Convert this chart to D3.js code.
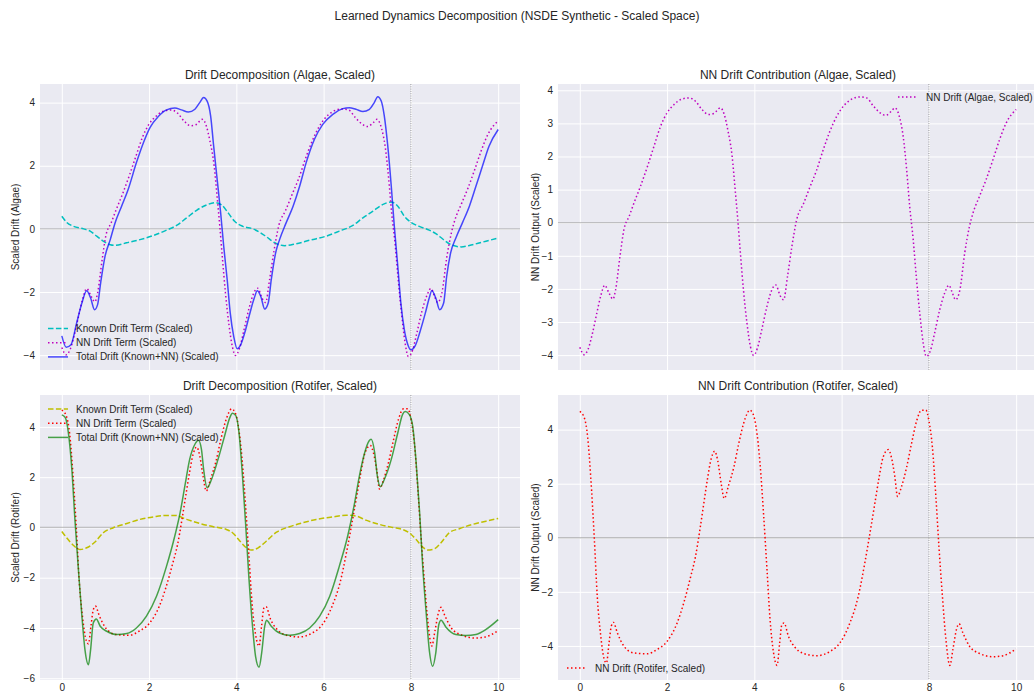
<!DOCTYPE html>
<html><head><meta charset="utf-8">
<script src="https://cdn.jsdelivr.net/npm/d3@7"></script>
<style>
body{margin:0;background:#fff}
text{font-family:"Liberation Sans",Arial,sans-serif;fill:#262626}
</style>
</head><body>
<svg id="chart" width="1034" height="693"></svg>
<script>
// ---------------- DATA ----------------
const xTicks = [0, 2, 4, 6, 8, 10];
const markerTime = 8;

const algaeKnownT = [0,0.11,0.27,0.50,0.65,0.80,0.95,1.11,1.22,1.49,1.79,2.10,2.40,2.63,2.86,3.09,3.32,3.51,3.66,3.81,3.96,4.15,4.38,4.54,4.69,4.88,5.11,5.37,5.68,6.06,6.36,6.67,6.90,7.13,7.35,7.55,7.70,7.85,8.0,8.19,8.42,8.57,8.73,8.92,9.15,9.41,9.72,10];
const algaeKnown  = [0.40,0.21,0.08,0.0,-0.07,-0.23,-0.39,-0.50,-0.52,-0.44,-0.34,-0.21,-0.04,0.11,0.35,0.59,0.76,0.83,0.76,0.51,0.24,0.08,0.0,-0.11,-0.25,-0.44,-0.53,-0.47,-0.36,-0.23,-0.07,0.11,0.35,0.56,0.77,0.85,0.72,0.40,0.21,0.08,-0.04,-0.15,-0.32,-0.50,-0.57,-0.50,-0.39,-0.29];

const algaeNNT = [0,0.1,0.19,0.29,0.39,0.48,0.57,0.67,0.76,0.82,0.92,1.01,1.13,1.24,1.39,1.55,1.70,1.85,2.00,2.16,2.31,2.50,2.65,2.80,2.95,3.07,3.22,3.31,3.39,3.49,3.56,3.62,3.68,3.75,3.83,3.91,3.98,4.07,4.17,4.29,4.40,4.49,4.59,4.67,4.76,4.86,4.97,5.13,5.28,5.43,5.58,5.73,5.89,6.04,6.19,6.42,6.57,6.73,6.88,7.01,7.14,7.22,7.33,7.41,7.49,7.56,7.64,7.71,7.79,7.87,7.94,8.04,8.13,8.25,8.36,8.46,8.54,8.61,8.71,8.82,8.93,9.01,9.16,9.31,9.47,9.62,9.77,10.0];
const algaeNN  = [-3.76,-3.99,-3.82,-3.34,-2.73,-2.21,-1.89,-2.13,-2.31,-2.03,-1.02,-0.21,0.19,0.59,1.10,1.70,2.31,2.91,3.32,3.57,3.72,3.77,3.67,3.42,3.27,3.30,3.47,3.27,2.81,2.01,1.0,0.09,-0.92,-2.03,-3.03,-3.74,-4.01,-3.79,-3.23,-2.52,-2.03,-1.88,-2.2,-2.33,-1.62,-0.72,0.09,0.59,1.10,1.60,2.21,2.76,3.22,3.52,3.70,3.80,3.77,3.52,3.32,3.24,3.37,3.47,3.17,2.61,1.60,0.49,-0.51,-1.62,-2.73,-3.64,-4.04,-3.84,-3.34,-2.62,-2.13,-1.89,-2.13,-2.33,-2.03,-0.92,-0.11,0.29,0.80,1.30,1.91,2.51,3.01,3.42];

const algaeTotalT = [0,0.10,0.21,0.34,0.46,0.57,0.66,0.75,0.82,0.89,0.99,1.11,1.22,1.37,1.52,1.71,1.87,2.02,2.21,2.40,2.59,2.74,2.90,3.05,3.16,3.25,3.33,3.41,3.48,3.56,3.64,3.71,3.79,3.86,3.94,4.02,4.09,4.19,4.31,4.41,4.48,4.56,4.65,4.73,4.80,4.90,4.99,5.14,5.30,5.45,5.60,5.79,5.98,6.21,6.44,6.59,6.74,6.90,7.05,7.16,7.24,7.32,7.39,7.47,7.55,7.62,7.70,7.77,7.85,7.93,8.0,8.10,8.21,8.33,8.42,8.48,8.57,8.66,8.75,8.82,8.91,9.03,9.18,9.34,9.49,9.64,9.79,10];
const algaeTotal  = [-3.39,-3.75,-3.67,-2.98,-2.35,-1.96,-2.19,-2.56,-2.40,-1.71,-0.87,-0.34,0.19,0.72,1.25,2.10,2.73,3.21,3.56,3.77,3.83,3.77,3.70,3.79,4.00,4.16,4.05,3.58,2.62,1.57,0.51,-0.55,-1.61,-2.67,-3.41,-3.80,-3.70,-3.30,-2.67,-2.19,-1.96,-2.14,-2.54,-2.35,-1.61,-0.76,-0.34,0.19,0.72,1.35,2.10,2.84,3.31,3.63,3.81,3.84,3.79,3.72,3.79,4.00,4.19,4.05,3.58,2.62,1.35,0.08,-1.19,-2.35,-3.20,-3.67,-3.83,-3.70,-3.25,-2.67,-2.19,-1.96,-2.19,-2.56,-2.35,-1.50,-0.76,-0.29,0.19,0.72,1.35,1.99,2.62,3.15];

const rotiferKnownT = [0,0.11,0.27,0.42,0.57,0.76,0.95,1.18,1.49,1.79,2.10,2.40,2.59,2.86,3.16,3.47,3.77,3.93,4.08,4.23,4.34,4.50,4.69,4.92,5.22,5.53,5.83,6.21,6.52,6.75,6.97,7.28,7.58,7.81,7.96,8.12,8.27,8.38,8.54,8.69,8.88,9.11,9.41,9.72,10];
const rotiferKnown  = [-0.16,-0.41,-0.72,-0.88,-0.81,-0.58,-0.21,-0.01,0.16,0.32,0.42,0.48,0.48,0.32,0.16,0.03,-0.08,-0.24,-0.54,-0.81,-0.90,-0.81,-0.54,-0.19,0.03,0.19,0.32,0.42,0.49,0.45,0.29,0.12,0.0,-0.08,-0.21,-0.48,-0.78,-0.90,-0.85,-0.61,-0.21,-0.05,0.12,0.25,0.36];

const rotiferNNT = [0,0.10,0.18,0.25,0.33,0.40,0.48,0.56,0.61,0.67,0.72,0.77,0.86,1.01,1.24,1.55,1.77,2.0,2.23,2.38,2.54,2.65,2.75,2.84,2.92,3.01,3.09,3.16,3.24,3.31,3.41,3.53,3.64,3.75,3.83,3.89,3.97,4.04,4.13,4.21,4.29,4.36,4.44,4.52,4.58,4.63,4.68,4.78,4.94,5.13,5.43,5.74,5.96,6.19,6.38,6.53,6.66,6.76,6.86,6.95,7.07,7.14,7.22,7.28,7.37,7.49,7.60,7.72,7.83,7.93,8.0,8.08,8.16,8.23,8.31,8.39,8.48,8.55,8.63,8.69,8.78,8.93,9.16,9.47,9.70,10];
const rotiferNN  = [4.67,4.45,3.72,2.25,0.04,-2.17,-3.64,-4.50,-4.63,-3.89,-3.28,-3.13,-3.52,-4.01,-4.26,-4.29,-4.13,-3.83,-3.15,-2.42,-1.44,-0.70,0.28,1.26,2.12,2.92,3.20,2.86,2.0,1.45,1.94,2.61,3.47,4.21,4.58,4.72,4.58,4.09,2.74,0.90,-1.19,-3.03,-4.26,-4.72,-3.89,-3.21,-3.15,-3.64,-4.07,-4.28,-4.36,-4.20,-3.89,-3.15,-2.17,-0.94,0.28,1.26,2.25,2.98,3.26,2.98,2.25,1.53,1.88,2.61,3.47,4.33,4.72,4.72,4.33,3.35,1.51,-0.33,-2.17,-3.77,-4.72,-4.13,-3.40,-3.18,-3.52,-4.01,-4.28,-4.40,-4.36,-4.11];

const rotiferTotalT = [0,0.08,0.15,0.23,0.30,0.38,0.46,0.53,0.61,0.66,0.72,0.79,0.88,1.03,1.26,1.49,1.71,1.94,2.17,2.40,2.55,2.71,2.82,2.93,3.05,3.13,3.20,3.25,3.33,3.43,3.58,3.73,3.85,3.91,3.99,4.06,4.14,4.22,4.29,4.37,4.44,4.52,4.58,4.65,4.69,4.80,4.99,5.22,5.45,5.68,5.91,6.14,6.36,6.55,6.71,6.82,6.94,7.04,7.09,7.17,7.23,7.30,7.39,7.55,7.70,7.81,7.87,7.96,8.04,8.12,8.20,8.27,8.35,8.42,8.50,8.57,8.64,8.69,8.80,9.03,9.26,9.49,9.72,10];
const rotiferTotal  = [4.48,4.37,3.77,2.31,0.32,-1.67,-3.53,-4.86,-5.46,-4.86,-3.80,-3.64,-3.93,-4.13,-4.26,-4.22,-4.00,-3.53,-2.74,-1.54,-0.61,0.58,1.65,2.71,3.31,3.47,3.11,2.31,1.58,1.91,2.71,3.64,4.37,4.54,4.44,3.77,2.05,-0.08,-2.07,-3.93,-5.13,-5.56,-4.99,-3.93,-3.69,-3.93,-4.20,-4.29,-4.22,-4.00,-3.53,-2.74,-1.54,-0.35,0.98,2.05,2.97,3.44,3.51,2.97,2.05,1.62,1.91,2.71,3.77,4.50,4.61,4.50,4.04,2.58,0.58,-1.54,-3.40,-4.86,-5.52,-4.99,-3.86,-3.69,-3.96,-4.26,-4.30,-4.26,-4.06,-3.67];

const yTicksAlgaeDecomp = [-4, -2, 0, 2, 4];
const yTicksAlgaeNN = [-4, -3, -2, -1, 0, 1, 2, 3, 4];
const yTicksRotiferDecomp = [-6, -4, -2, 0, 2, 4];
const yTicksRotiferNN = [-4, -2, 0, 2, 4];

// ---------------- STYLES ----------------
const DOT = "1.5,2.5", DASH = "5.5,2.4";
const st = {
  aKnown: {color:"#00bfbf", dash:DASH, op:1},
  aNN:    {color:"#bf00bf", dash:DOT, op:1},
  aTotal: {color:"#0000ff", dash:null, op:0.7},
  rKnown: {color:"#bfbf00", dash:DASH, op:1},
  rNN:    {color:"#ff0000", dash:DOT, op:1},
  rTotal: {color:"#008000", dash:null, op:0.7}
};

const panels = [
  {x:40, y:84, w:480, h:286, ydom:[-4.47,4.59], yticks:yTicksAlgaeDecomp, xlabels:false,
   title:"Drift Decomposition (Algae, Scaled)", ylabel:"Scaled Drift (Algae)", ylabelX:15,
   series:[
     {t:algaeKnownT, v:algaeKnown, s:st.aKnown, name:"Known Drift Term (Scaled)"},
     {t:algaeNNT, v:algaeNN, s:st.aNN, name:"NN Drift Term (Scaled)"},
     {t:algaeTotalT, v:algaeTotal, s:st.aTotal, name:"Total Drift (Known+NN) (Scaled)"}],
   legend:{x:48, y:328.5}},
  {x:558, y:84, w:480, h:286, ydom:[-4.45,4.19], yticks:yTicksAlgaeNN, xlabels:false,
   title:"NN Drift Contribution (Algae, Scaled)", ylabel:"NN Drift Output (Scaled)", ylabelX:535,
   series:[{t:algaeNNT, v:algaeNN, s:st.aNN, name:"NN Drift (Algae, Scaled)"}],
   legend:{x:898, y:97}},
  {x:40, y:395, w:480, h:285, ydom:[-6.07,5.27], yticks:yTicksRotiferDecomp, xlabels:true,
   title:"Drift Decomposition (Rotifer, Scaled)", ylabel:"Scaled Drift (Rotifer)", ylabelX:15,
   series:[
     {t:rotiferKnownT, v:rotiferKnown, s:st.rKnown, name:"Known Drift Term (Scaled)"},
     {t:rotiferNNT, v:rotiferNN, s:st.rNN, name:"NN Drift Term (Scaled)"},
     {t:rotiferTotalT, v:rotiferTotal, s:st.rTotal, name:"Total Drift (Known+NN) (Scaled)"}],
   legend:{x:48, y:409}},
  {x:558, y:395, w:480, h:285, ydom:[-5.26,5.28], yticks:yTicksRotiferNN, xlabels:true,
   title:"NN Drift Contribution (Rotifer, Scaled)", ylabel:"NN Drift Output (Scaled)", ylabelX:535,
   series:[{t:rotiferNNT, v:rotiferNN, s:st.rNN, name:"NN Drift (Rotifer, Scaled)"}],
   legend:{x:567, y:668}}
];

const svg = d3.select("#chart");
const fmt = d => (d < 0 ? "\u2212" + Math.abs(d) : String(d));

svg.append("text").attr("x", 517).attr("y", 20).attr("text-anchor", "middle")
  .style("font-size", "12px").text("Learned Dynamics Decomposition (NSDE Synthetic - Scaled Space)");

panels.forEach((p, i) => {
  const xs = d3.scaleLinear().domain([-0.5, 10.5]).range([p.x, p.x + p.w]);
  const ys = d3.scaleLinear().domain(p.ydom).range([p.y + p.h, p.y]);
  const g = svg.append("g");
  g.append("rect").attr("x", p.x).attr("y", p.y).attr("width", p.w).attr("height", p.h).attr("fill", "#eaeaf2");
  const clipId = "clip" + i;
  svg.append("clipPath").attr("id", clipId).append("rect")
    .attr("x", p.x).attr("y", p.y).attr("width", p.w).attr("height", p.h);

  const gx = g.append("g").attr("transform", `translate(0,${p.y + p.h})`)
    .call(d3.axisBottom(xs).tickValues(xTicks).tickSize(-p.h).tickFormat(p.xlabels ? fmt : () => "").tickPadding(4));
  gx.select(".domain").remove();
  gx.selectAll("line").attr("stroke", "#ffffff").attr("stroke-width", 1);
  gx.selectAll("text").style("font-size", "10px").style("font-family", "'Liberation Sans',Arial,sans-serif").attr("fill", "#262626");

  const gy = g.append("g").attr("transform", `translate(${p.x},0)`)
    .call(d3.axisLeft(ys).tickValues(p.yticks).tickSize(-p.w).tickFormat(fmt).tickPadding(5));
  gy.select(".domain").remove();
  gy.selectAll("line").attr("stroke", "#ffffff").attr("stroke-width", 1);
  gy.selectAll("text").style("font-size", "10px").style("font-family", "'Liberation Sans',Arial,sans-serif").attr("fill", "#262626");

  const inner = g.append("g").attr("clip-path", `url(#${clipId})`);
  inner.append("line").attr("x1", p.x).attr("x2", p.x + p.w).attr("y1", ys(0)).attr("y2", ys(0))
    .attr("stroke", "#808080").attr("stroke-opacity", 0.45).attr("stroke-width", 1.3);
  inner.append("line").attr("x1", xs(markerTime)).attr("x2", xs(markerTime)).attr("y1", p.y).attr("y2", p.y + p.h)
    .attr("stroke", "#808080").attr("stroke-width", 0.8).attr("stroke-dasharray", "1,1.3");

  p.series.forEach(sr => {
    const pts = sr.t.map((t, k) => [t, sr.v[k]]);
    const line = d3.line().x(d => xs(d[0])).y(d => ys(d[1])).curve(d3.curveMonotoneX);
    inner.append("path").attr("d", line(pts)).attr("fill", "none")
      .attr("stroke", sr.s.color).attr("stroke-opacity", sr.s.op).attr("stroke-width", 1.5)
      .attr("stroke-dasharray", sr.s.dash);
  });

  svg.append("text").attr("x", p.x + p.w / 2).attr("y", p.y - 5).attr("text-anchor", "middle")
    .style("font-size", "12px").text(p.title);
  svg.append("text").attr("transform", `translate(${p.ylabelX + 3.5},${p.y + p.h / 2}) rotate(-90)`)
    .attr("text-anchor", "middle").style("font-size", "10px").text(p.ylabel);

  const lg = svg.append("g");
  p.series.forEach((sr, k) => {
    const yy = p.legend.y + k * 14.2;
    lg.append("line").attr("x1", p.legend.x).attr("x2", p.legend.x + 20).attr("y1", yy).attr("y2", yy)
      .attr("stroke", sr.s.color).attr("stroke-opacity", sr.s.op).attr("stroke-width", 1.5)
      .attr("stroke-dasharray", sr.s.dash);
    lg.append("text").attr("x", p.legend.x + 28).attr("y", yy + 3.5).style("font-size", "10px").text(sr.name);
  });
});
</script>
</body></html>
